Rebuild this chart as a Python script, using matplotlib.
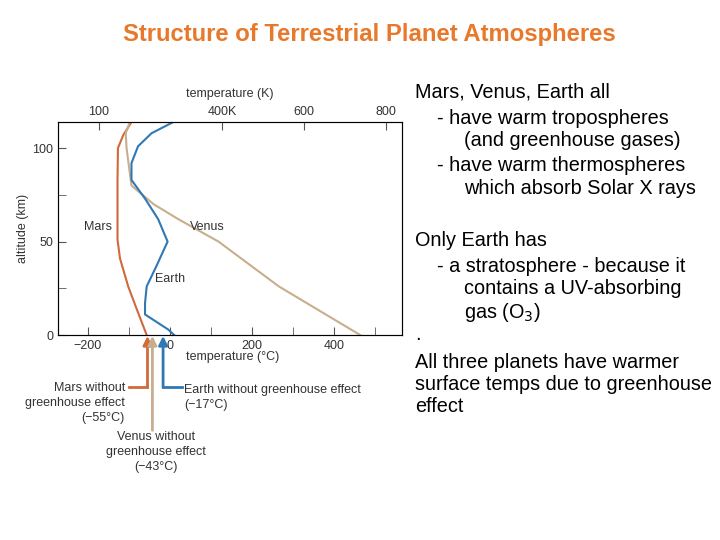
import matplotlib
matplotlib.use("Agg")
import matplotlib.pyplot as plt
from matplotlib.ticker import MultipleLocator

plt.rcParams['font.family'] = ['Liberation Sans', 'DejaVu Sans']

earth_T = [10, -5, -61, -61, -57, -33, -6, -29, -61, -94, -94, -78, -45, 8]
earth_z = [0, 3, 11, 17, 26, 37, 50, 62, 73, 83, 92, 101, 108, 114]
mars_T = [-57, -78, -102, -122, -128, -128, -127, -114, -94]
mars_z = [0, 12, 26, 41, 51, 83, 100, 107, 114]
venus_T = [463, 265, 118, 20, -40, -94, -100, -106, -108, -98]
venus_z = [0, 26, 50, 62, 70, 80, 90, 100, 108, 114]
k_ticks = [100, 400, 600, 800]
k_labels = ['100', '400K', '600', '800']
noghg = {'Mars': -55, 'Venus': -43, 'Earth': -17}

c_earth, c_mars, c_venus = '#2f78b5', '#d2693a', '#c8ae8c'

fig = plt.figure(figsize=(7.2, 5.4), dpi=100)
ax = fig.add_axes([58/720, 1-335/540, 344/720, 213/540])
ax.plot(mars_T, mars_z, color=c_mars, lw=1.5)
ax.plot(venus_T, venus_z, color=c_venus, lw=1.5)
ax.plot(earth_T, earth_z, color=c_earth, lw=1.5)
ax.set_xlim(-273, 565)
ax.set_ylim(0, 114)
ax.set_xticks([-200, 0, 200, 400])
ax.set_xticks(range(-200, 501, 100), minor=True)
ax.set_yticks([0, 50, 100])
ax.set_yticks(range(0, 114, 25), minor=True)
ax.tick_params(which='both', direction='in', length=6, color='#555', labelsize=9, labelcolor='#333')
for s in ax.spines.values():
    s.set_color('#555'); s.set_linewidth(0.8)
ax.set_ylabel('altitude (km)', fontsize=9, color='#333', labelpad=2)
ax2 = ax.twiny()
ax2.set_xlim(0, 838)
ax2.set_xticks(k_ticks)
ax2.set_xticklabels(k_labels)
ax2.tick_params(direction='in', length=6, color='#555', labelsize=9, labelcolor='#333', pad=3)
ax2.set_xlabel('temperature (K)', fontsize=9, color='#333', labelpad=6)
ax.text(-175, 58, 'Mars', fontsize=9, color='#333', ha='center', va='center')
ax.text(90, 58, 'Venus', fontsize=9, color='#333', ha='center', va='center')
ax.text(-1, 30, 'Earth', fontsize=9, color='#333', ha='center', va='center')
ax.text(40, -12, 'temperature (°C)', fontsize=9, color='#333', ha='left', va='center')

cols = {'Mars': c_mars, 'Venus': c_venus, 'Earth': c_earth}
starts = {'Mars': -28, 'Venus': -51, 'Earth': -28}
for k, T in noghg.items():
    ax.annotate('', xy=(T, -0.5), xytext=(T, starts[k]), annotation_clip=False,
                arrowprops=dict(arrowstyle='-|>', color=cols[k], lw=2, mutation_scale=13, shrinkA=0, shrinkB=0))
ax.plot([-55, -100], [-28, -28], color=c_mars, lw=2, clip_on=False)
ax.plot([-17, 29], [-28, -28], color=c_earth, lw=2, clip_on=False)

def ft(x, y, s, **kw):
    fig.text(x/720, 1-y/540, s, va='center', **kw)

gk = dict(fontsize=9, color='#333')
ft(125, 388, 'Mars without', ha='right', **gk)
ft(125, 403, 'greenhouse effect', ha='right', **gk)
ft(125, 418, '(−55°C)', ha='right', **gk)
ft(184, 390, 'Earth without greenhouse effect', ha='left', **gk)
ft(184, 405, '(−17°C)', ha='left', **gk)
ft(156, 437, 'Venus without', ha='center', **gk)
ft(156, 452, 'greenhouse effect', ha='center', **gk)
ft(156, 467, '(−43°C)', ha='center', **gk)

fig.text(369/720, 1-34/540, 'Structure of Terrestrial Planet Atmospheres', ha='center', va='center',
         fontsize=17.2, fontweight='bold', color='#e8782a')

tk = dict(fontsize=14.3, color='black')
lines = [(415, 92, 'Mars, Venus, Earth all'), (437, 118, '- have warm tropospheres'),
         (464, 140, '(and greenhouse gases)'), (437, 166, '- have warm thermospheres'),
         (464, 188, 'which absorb Solar X rays'), (415, 240, 'Only Earth has'),
         (437, 266, '- a stratosphere - because it'), (464, 289, 'contains a UV-absorbing'),
         (464, 312, 'gas (O$_3$)'), (415, 335, '.'),
         (415, 363, 'All three planets have warmer'), (415, 385, 'surface temps due to greenhouse'),
         (415, 407, 'effect')]
for x, y, s in lines:
    ft(x, y, s, ha='left', **tk)

fig.savefig('out.png', dpi=100)
